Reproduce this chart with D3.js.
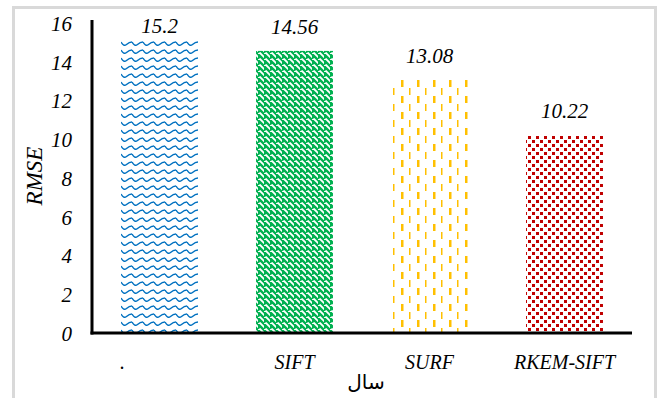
<!DOCTYPE html>
<html>
<head>
<meta charset="utf-8">
</head>
<body style="margin:0">
<svg width="659" height="398"></svg>
<script src="https://d3js.org/d3.v7.min.js"></script>
<script>
const categories = [".", "SIFT", "SURF", "RKEM-SIFT"];
const rmse = [15.2, 14.56, 13.08, 10.22];
const yTicks = [0, 2, 4, 6, 8, 10, 12, 14, 16];
const patternIds = ["wave", "diag", "dash", "dots"];

const svg = d3.select("svg");
const margin = { top: 23, right: 27, bottom: 65, left: 92 };
const width = 659, height = 398;

// italic Times-like text everywhere
function serifText(sel, size) {
  sel.style("font-family", "'Liberation Serif', 'Times New Roman', serif")
    .style("font-style", "italic")
    .style("font-size", size + "px");
}

// outer frame
svg.append("rect")
  .attr("x", 13.5).attr("y", 7.5)
  .attr("width", 642).attr("height", 400)
  .attr("fill", "none").attr("stroke", "#d9d9d9").attr("stroke-width", 3);

// fill patterns
const defs = svg.append("defs");

const wave = defs.append("pattern").attr("id", "wave")
  .attr("patternUnits", "userSpaceOnUse").attr("width", 11).attr("height", 8);
wave.append("path")
  .attr("d", "M0,2 Q2.75,7 5.5,4.5 T11,2")
  .attr("fill", "none").attr("stroke", "#0070c0").attr("stroke-width", 1.4);

const diag = defs.append("pattern").attr("id", "diag")
  .attr("patternUnits", "userSpaceOnUse").attr("width", 6).attr("height", 6);
diag.append("path")
  .attr("d", "M-1.5,1.5 L1.5,4.5 M0,0 L6,6 M4.5,-1.5 L7.5,1.5")
  .attr("stroke", "#00b050").attr("stroke-width", 2.4);

const dash = defs.append("pattern").attr("id", "dash")
  .attr("patternUnits", "userSpaceOnUse").attr("width", 16).attr("height", 16);
dash.append("rect").attr("x", 1).attr("y", 0).attr("width", 2.5).attr("height", 7).attr("fill", "#ffc000");
dash.append("rect").attr("x", 9).attr("y", 8).attr("width", 1.5).attr("height", 7).attr("fill", "#ffc000");

const dots = defs.append("pattern").attr("id", "dots")
  .attr("patternUnits", "userSpaceOnUse").attr("width", 8).attr("height", 8);
dots.append("rect").attr("x", 0).attr("y", 0).attr("width", 3).attr("height", 3).attr("fill", "#c00000");
dots.append("rect").attr("x", 4).attr("y", 4).attr("width", 3).attr("height", 3).attr("fill", "#c00000");

const x = d3.scaleBand()
  .domain(categories)
  .range([margin.left, width - margin.right])
  .paddingInner(0.43).paddingOuter(0.215);

const y = d3.scaleLinear()
  .domain([0, 16])
  .range([height - margin.bottom, margin.top]);

// bars
svg.append("g").selectAll("rect")
  .data(rmse)
  .join("rect")
  .attr("x", (d, i) => x(categories[i]))
  .attr("y", d => y(d))
  .attr("width", x.bandwidth())
  .attr("height", d => y(0) - y(d))
  .attr("fill", (d, i) => `url(#${patternIds[i]})`);

// value labels
svg.append("g").selectAll("text")
  .data(rmse)
  .join("text")
  .attr("x", (d, i) => x(categories[i]) + x.bandwidth() / 2)
  .attr("y", d => Math.max(y(d) - 17, y(16) + 10))
  .attr("text-anchor", "middle")
  .call(serifText, 21)
  .text(d => d);

// y axis
const yAxis = svg.append("g")
  .attr("transform", `translate(${margin.left},0)`)
  .call(d3.axisLeft(y).tickValues(yTicks).tickSize(0).tickPadding(20));
yAxis.attr("font-family", null);
yAxis.select(".domain").remove();
yAxis.selectAll("text").call(serifText, 21).attr("dy", "0.35em");

svg.append("line")
  .attr("x1", margin.left).attr("x2", margin.left)
  .attr("y1", y(16) - 3).attr("y2", y(0) + 1.5)
  .attr("stroke", "#000").attr("stroke-width", 3);

// x axis
const xAxis = svg.append("g")
  .attr("transform", `translate(0,${y(0)})`)
  .call(d3.axisBottom(x).tickSize(0).tickPadding(22));
xAxis.attr("font-family", null);
xAxis.select(".domain").remove();
xAxis.selectAll("text").call(serifText, 20)
  .attr("dx", d => d === "." ? -37 : 0);

svg.append("line")
  .attr("x1", margin.left - 1.5).attr("x2", width - margin.right)
  .attr("y1", y(0)).attr("y2", y(0))
  .attr("stroke", "#000").attr("stroke-width", 3);

// axis titles
svg.append("text")
  .attr("transform", `translate(42,${y(8) - 2}) rotate(-90)`)
  .attr("text-anchor", "middle")
  .call(serifText, 23)
  .text("RMSE");

svg.append("text")
  .attr("x", 366).attr("y", 389)
  .attr("text-anchor", "middle")
  .style("font-size", "20px")
  .style("font-family", "'DejaVu Sans'")
  .text("سال");
</script>
</body>
</html>
